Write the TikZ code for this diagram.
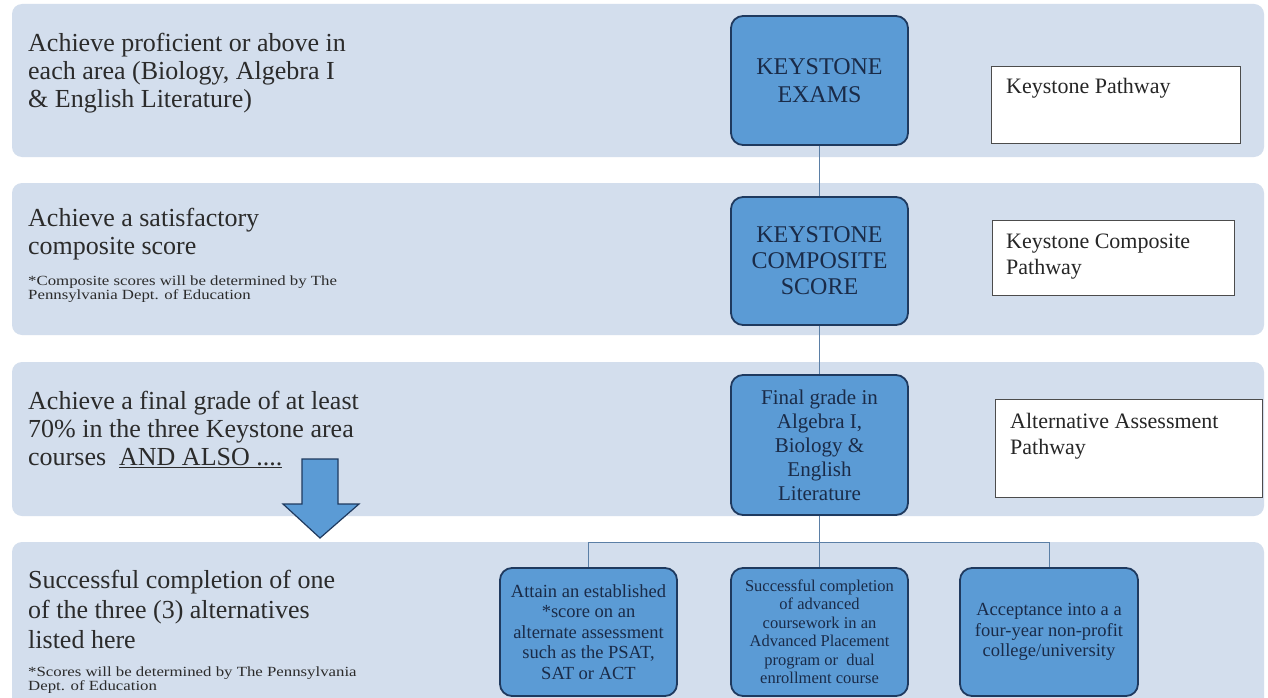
\documentclass[tikz,border=0pt]{standalone}
\usepackage{fontspec}
\setmainfont{Liberation Serif}
\newfontfamily\notefont{Liberation Serif}[FakeStretch=1.2]
\usepackage{tikz}
\usetikzlibrary{positioning}

\definecolor{bandblue}{HTML}{D3DEED}
\definecolor{boxblue}{HTML}{5B9BD5}
\definecolor{boxedge}{HTML}{1F3A5F}
\definecolor{boxtext}{HTML}{1A2B48}
\definecolor{linkblue}{HTML}{5B7FA6}
\definecolor{lefttext}{HTML}{2B2B2B}

\begin{document}
\begin{tikzpicture}[x=1pt,y=-1pt,
	band/.style={fill=bandblue, rounded corners=10pt},
	keybox/.style={draw=boxedge, line width=1.8pt, fill=boxblue, rounded corners=12pt, text=boxtext, align=center, inner sep=0pt},
	pathbox/.style={draw=black!70, line width=1.3pt, fill=white, anchor=north west, inner sep=0pt},
	pathtxt/.style={anchor=north west, align=left, inner sep=0pt, text=black!85, font=\fontsize{22}{26}\selectfont},
	lefttxt/.style={anchor=north west, align=left, inner sep=0pt, text=lefttext, font=\fontsize{26}{28}\selectfont},
	notetxt/.style={anchor=north west, align=left, inner sep=0pt, text=lefttext, font=\notefont\fontsize{14}{14}\selectfont},
	link/.style={draw=linkblue, line width=1pt}]

	\useasboundingbox[fill=white] (0,0) rectangle (1268,698);

	\fill[band] (12,4) rectangle (1264,157);
	\fill[band] (12,183) rectangle (1264,335);
	\fill[band] (12,362) rectangle (1264,516);
	\fill[band] (12,542) rectangle (1264,712);

	\node[lefttxt] (reqexam) at (28,33) {Achieve proficient or above in\\each area (Biology, Algebra I\\\& English Literature)};
	\node[lefttxt] (reqcomp) at (28,208) {Achieve a satisfactory\\composite score};
	\node[notetxt] (notecomp) at (28,276) {*Composite scores will be determined by The\\Pennsylvania Dept. of Education};
	\node[lefttxt] (reqgrade) at (28,391) {Achieve a final grade of at least\\70\% in the three Keystone area\\courses\ \ \underline{AND ALSO ....}};
	\node[lefttxt, font=\fontsize{26}{30}\selectfont] (reqalt) at (28,570) {Successful completion of one\\of the three (3) alternatives\\listed here};
	\node[notetxt] (notealt) at (28,667) {*Scores will be determined by The Pennsylvania\\Dept. of Education};

	\draw[fill=boxblue, draw=boxedge, line width=1.2pt] (302,459) -- (338,459) -- (338,504) -- (359,504) -- (320,538) -- (283,504) -- (302,504) -- cycle;

	\node[keybox, minimum width=177pt, minimum height=129pt, font=\fontsize{24}{28}\selectfont] (k1) at (819.5,80.5) {KEYSTONE\\EXAMS};
	\node[keybox, minimum width=177pt, minimum height=128pt, font=\fontsize{24}{26}\selectfont] (k2) at (819.5,261) {KEYSTONE\\COMPOSITE\\SCORE};
	\node[keybox, minimum width=177pt, minimum height=140pt, font=\fontsize{21}{24}\selectfont] (k3) at (819.5,445) {Final grade in\\Algebra I,\\Biology \&\\English\\Literature};

	\coordinate (branch) at (0,542);
	\node[keybox, minimum width=177pt, minimum height=128pt, font=\fontsize{18.5}{20.5}\selectfont] (alta) at (588.5,632) {Attain an established\\*score on an\\alternate assessment\\such as the PSAT,\\SAT or ACT};
	\node[keybox, minimum width=177pt, minimum height=128pt, font=\fontsize{16.5}{18.5}\selectfont] (altb) at (819.5,632) {Successful completion\\of advanced\\coursework in an\\Advanced Placement\\program or\ \ dual\\enrollment course};
	\node[keybox, minimum width=178pt, minimum height=128pt, font=\fontsize{18.5}{20.5}\selectfont] (altc) at (1049,632) {Acceptance into a a\\four-year non-profit\\college/university};

	\draw[link] (k1.south) -- (k2.north);
	\draw[link] (k2.south) -- (k3.north);
	\draw[link] (k3.south) -- (altb.north);
	\draw[link] (alta.north) -- (alta.north |- branch) -- (altc.north |- branch) -- (altc.north);

	\node[pathbox, minimum width=249pt, minimum height=77pt] (kpath) at (991,66) {};
	\node[pathtxt, below right=12pt and 15pt of kpath.north west] (kpathtxt) {Keystone Pathway};
	\node[pathbox, minimum width=242pt, minimum height=75pt] (cpath) at (992,220) {};
	\node[pathtxt, below right=14pt and 14pt of cpath.north west] (cpathtxt) {Keystone Composite\\Pathway};
	\node[pathbox, minimum width=267pt, minimum height=98pt] (apath) at (995,399) {};
	\node[pathtxt, below right=14pt and 15pt of apath.north west] (apathtxt) {Alternative Assessment\\Pathway};

\end{tikzpicture}
\end{document}
